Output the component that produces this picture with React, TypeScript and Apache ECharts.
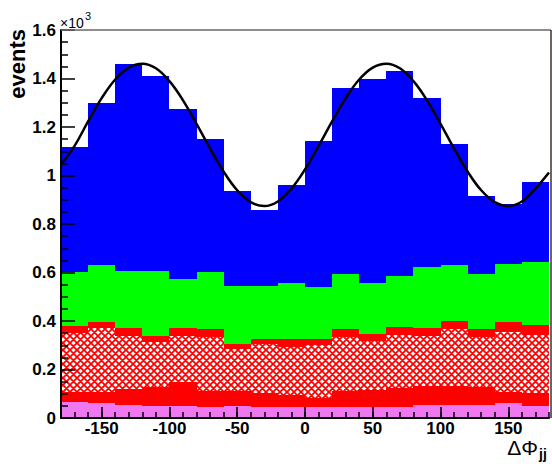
import React, { useEffect, useRef } from "react";
import * as echarts from "echarts";

// Bin edges of the Delta Phi_jj histogram (degrees)
const binEdges = [-180, -160, -140, -120, -100, -80, -60, -40, -20, 0, 20, 40, 60, 80, 100, 120, 140, 160, 180];

// Per-component contents (events), stacked from bottom to top
const pinkValues = [65, 60, 55, 51, 49, 47, 50, 47, 47, 47, 47, 47, 47, 55, 55, 55, 63, 51];
const redLowValues = [42, 47, 65, 75, 99, 65, 63, 57, 46, 37, 65, 69, 77, 76, 78, 73, 44, 52];
const hatchValues = [245, 264, 218, 187, 191, 223, 172, 200, 201, 217, 223, 202, 217, 207, 234, 206, 248, 239];
const redHighValues = [27, 25, 32, 25, 31, 33, 20, 20, 30, 23, 31, 27, 33, 32, 33, 32, 42, 42];
const greenValues = [222, 236, 236, 268, 203, 233, 238, 220, 231, 217, 229, 213, 210, 253, 231, 229, 239, 258];
const blueValues = [518, 668, 852, 806, 700, 549, 392, 312, 406, 602, 766, 839, 846, 698, 500, 319, 248, 330];

// Fit curve
const curveX = [-180, -170, -160, -150, -140, -130, -120, -110, -100, -90, -80, -70, -60, -50, -40, -30, -20, -10, 0,
  10, 20, 30, 40, 50, 60, 70, 80, 90, 100, 110, 120, 130, 140, 150, 160, 170, 180];
const curveY = [1045, 1122, 1223, 1319, 1396, 1445, 1461, 1442, 1389, 1310, 1213, 1111, 1016, 939, 890, 874, 893, 946, 1025,
  1122, 1223, 1319, 1396, 1445, 1461, 1442, 1389, 1310, 1213, 1111, 1016, 939, 890, 874, 893, 946, 1012];

// Tick labels
const xMajorTicks = [-150, -100, -50, 0, 50, 100, 150];

const FONT = "'Liberation Sans', Arial, Helvetica, sans-serif";

function makeHatch(): HTMLCanvasElement {
  const s = 7;
  const c = document.createElement("canvas");
  c.width = s;
  c.height = s;
  const ctx = c.getContext("2d")!;
  ctx.fillStyle = "#ffffff";
  ctx.fillRect(0, 0, s, s);
  ctx.strokeStyle = "#ff0000";
  ctx.lineWidth = 1.8;
  ctx.beginPath();
  for (const o of [-s, 0, s]) {
    ctx.moveTo(-2, -2 + o);
    ctx.lineTo(s + 2, s + 2 + o);
    ctx.moveTo(-2, s + 2 + o);
    ctx.lineTo(s + 2, -2 + o);
  }
  ctx.stroke();
  return c;
}

export default function App() {
  const ref = useRef<HTMLDivElement>(null);

  useEffect(() => {
    const chart = echarts.init(ref.current!, null, { renderer: "svg" });
    const hatch = makeHatch();
    const hatchFill: any = { image: hatch, repeat: "repeat", imageWidth: 7, imageHeight: 7 };

    const layers = [
      { name: "pink", values: pinkValues, fill: "#ef77ef" },
      { name: "redLow", values: redLowValues, fill: "#ff0000" },
      { name: "hatch", values: hatchValues, fill: hatchFill },
      { name: "redHigh", values: redHighValues, fill: "#ff0000" },
      { name: "green", values: greenValues, fill: "#00ff00" },
      { name: "blue", values: blueValues, fill: "#0000ff" },
    ];

    const cum = new Array(binEdges.length - 1).fill(0);
    const histSeries = layers.map((layer) => {
      const data = layer.values.map((v, i) => {
        const lo = cum[i];
        const hi = lo + v;
        cum[i] = hi;
        return [binEdges[i], binEdges[i + 1], lo, hi];
      });
      const fill = layer.fill;
      return {
        type: "custom",
        name: layer.name,
        xAxisIndex: 0,
        yAxisIndex: 0,
        data,
        encode: { x: [0, 1], y: [2, 3] },
        z: 2,
        renderItem: (_params: any, api: any) => {
          const p0 = api.coord([api.value(0), api.value(2)]);
          const p1 = api.coord([api.value(1), api.value(3)]);
          const x0 = Math.round(p0[0]);
          const x1 = Math.round(p1[0]);
          const yb = Math.round(p0[1]);
          const yt = Math.round(p1[1]);
          return {
            type: "rect",
            shape: { x: x0, y: yt, width: x1 - x0, height: yb - yt },
            style: { fill },
          };
        },
      };
    });

    const labelStyle = { fontFamily: FONT, fontWeight: "bold", fontSize: 17, color: "#000" };

    const option: any = {
      animation: false,
      backgroundColor: "#ffffff",
      grid: { left: 61, right: 1, top: 30, bottom: 46, containLabel: false },
      xAxis: [
        {
          type: "value",
          min: -180,
          max: 180,
          interval: 10,
          z: 10,
          axisLine: { show: true, onZero: false, lineStyle: { color: "#000", width: 2 } },
          axisTick: { show: true, inside: true, length: 6, lineStyle: { color: "#000", width: 1.5 } },
          axisLabel: {
            ...labelStyle,
            margin: 2,
            formatter: (v: number) => (xMajorTicks.indexOf(v) >= 0 ? String(v) : ""),
          },
          splitLine: { show: false },
        },
        {
          type: "value",
          min: -180,
          max: 180,
          position: "bottom",
          z: 10,
          axisLine: { show: false, onZero: false },
          axisLabel: { show: false },
          splitLine: { show: false },
          axisTick: { show: true, inside: true, length: 11, customValues: xMajorTicks, lineStyle: { color: "#000", width: 1.5 } },
        },
      ],
      yAxis: {
        type: "value",
        min: 0,
        max: 1600,
        interval: 200,
        z: 10,
        axisLine: { show: true, onZero: false, lineStyle: { color: "#000", width: 2 } },
        axisTick: { show: true, inside: true, length: 14, lineStyle: { color: "#000", width: 1.5 } },
        minorTick: { show: true, splitNumber: 4, length: 7, lineStyle: { color: "#000", width: 1.5 } },
        axisLabel: { ...labelStyle, margin: 5, padding: [5, 0, 0, 0], formatter: (v: number) => String(v / 1000) },
        splitLine: { show: false },
        minorSplitLine: { show: false },
      },
      series: [
        ...histSeries,
        {
          type: "line",
          name: "fit",
          xAxisIndex: 0,
          yAxisIndex: 0,
          data: curveX.map((x, i) => [x, curveY[i]]),
          smooth: 0.4,
          showSymbol: false,
          z: 5,
          lineStyle: { color: "#000", width: 2.5 },
        },
      ],
      graphic: [
        { type: "line", z: 20, shape: { x1: 61, y1: 30, x2: 551, y2: 30 }, style: { stroke: "#6e6666", lineWidth: 1.5 } },
        { type: "line", z: 20, shape: { x1: 551, y1: 30, x2: 551, y2: 418 }, style: { stroke: "#3c3232", lineWidth: 1.5 } },
        {
          type: "text",
          z: 20,
          x: 17,
          y: 29,
          rotation: Math.PI / 2,
          style: {
            text: "events",
            font: `bold 22px ${FONT}`,
            textAlign: "right",
            align: "right",
            textVerticalAlign: "middle",
            verticalAlign: "middle",
            fill: "#000",
          },
        },
        {
          type: "text",
          z: 20,
          x: 60,
          y: 23,
          style: { text: "×10", font: `14px ${FONT}`, textAlign: "left", align: "left", textVerticalAlign: "middle", verticalAlign: "middle", fill: "#000" },
        },
        {
          type: "text",
          z: 20,
          x: 85,
          y: 16,
          style: { text: "3", font: `11px ${FONT}`, textAlign: "left", align: "left", textVerticalAlign: "middle", verticalAlign: "middle", fill: "#000" },
        },
        {
          type: "text",
          z: 20,
          x: 538,
          y: 447,
          style: { text: "ΔΦ", font: `21px ${FONT}`, textAlign: "right", align: "right", textVerticalAlign: "middle", verticalAlign: "middle", fill: "#000" },
        },
        {
          type: "text",
          z: 20,
          x: 539,
          y: 454,
          style: { text: "jj", font: `bold 14px ${FONT}`, textAlign: "left", align: "left", textVerticalAlign: "middle", verticalAlign: "middle", fill: "#000" },
        },
      ],
    };

    chart.setOption(option);
    return () => chart.dispose();
  }, []);

  return (
    <div
      ref={ref}
      style={{ position: "fixed", left: 0, top: 0, width: 552, height: 464, background: "#ffffff" }}
    />
  );
}
